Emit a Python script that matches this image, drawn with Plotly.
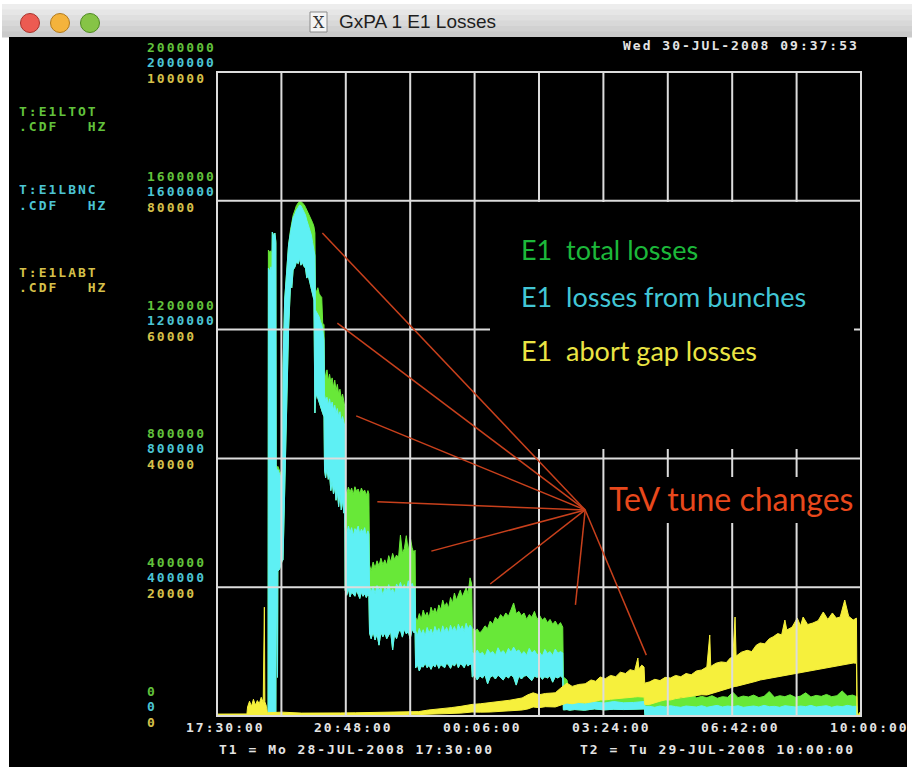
import plotly.graph_objects as go

# ---------------------------------------------------------------------------
# Time axis: minutes after T1 = Mo 28-JUL-2008 17:30:00 (T2 = +990 min)
# ---------------------------------------------------------------------------
time_ticks = [0, 198, 396, 594, 792, 990]
time_tick_labels = ["17:30:00", "20:48:00", "00:06:00", "03:24:00", "06:42:00", "10:00:00"]
grid_minutes = [0, 99, 198, 297, 396, 495, 594, 693, 792, 891, 990]

# Left scales: E1LTOT and E1LBNC share 0..2 000 000 Hz, E1LABT 0..100 000 Hz
tot_ticks = [0, 400000, 800000, 1200000, 1600000, 2000000]
bnc_ticks = [0, 400000, 800000, 1200000, 1600000, 2000000]
abt_ticks = [0, 20000, 40000, 60000, 80000, 100000]

# ---------------------------------------------------------------------------
# T:E1LTOT / T:E1LBNC envelopes (kHz), sampled on a shared time base (min)
# ---------------------------------------------------------------------------
loss_t = [
    # injection spikes and the first store peak
    0, 78.5, 79, 81, 83, 84.5, 85, 87, 89, 90.5, 91, 93, 93.6, 96, 98.5, 100.5,
    101.5, 104, 107, 110, 113, 115, 117, 120, 122, 125, 127, 129, 131, 134, 136,
    138, 140, 143, 145, 147, 149, 150.5, 151.3, 153, 155, 157, 159, 161, 162.5, 164.5,
    # step 2
    165.3, 167, 169, 171, 173, 175, 177, 179, 181, 183, 185, 187, 189, 191, 193, 195, 196.5,
    # step 3
    197, 199.5, 202, 204.5, 207, 209.5, 212, 214.5, 217, 219.5, 222, 224.5, 227, 229.5, 232, 233.5,
    # step 4
    234.5, 237, 240, 243, 246, 249, 252, 255, 258, 261, 264, 267, 270, 273, 276, 279,
    282, 285, 288, 291, 294, 297, 300, 303, 304.5,
    # step 5
    305.3, 308, 311, 314, 317, 320, 323, 326, 329, 332, 335, 338, 341, 344, 347, 350,
    353, 356, 359, 362, 365, 368, 371, 374, 377, 380, 383, 386, 389, 391.5,
    # step 6
    392.4, 396, 400, 404, 408, 412, 416, 420, 424, 428, 432, 436, 440, 444, 448, 452,
    456, 460, 464, 468, 472, 476, 480, 484, 488, 492, 496, 500, 504, 508, 512, 516,
    520, 524, 528, 531.5,
    # after the abort-gap clean-up
    532.5, 538, 542, 550, 565, 580, 595, 610, 625, 640, 657,
    658, 665, 673, 681, 689, 697, 705, 713, 721, 729, 737, 745, 753, 761, 769,
    777, 785, 793, 801, 809, 817, 825, 833, 841, 849, 857, 865, 873, 881, 889,
    897, 905, 913, 921, 929, 937, 945, 953, 961, 969, 977, 983.5, 984.5, 990,
]

bnc_hi_khz = [
    0, 0, 1391, 1380, 1395, 1370, 1503, 1490, 1500, 1470, 773, 760, 765, 750, 740, 760,
    1084, 1292, 1376, 1463, 1503, 1525, 1547, 1560, 1571, 1580, 1587, 1585, 1578, 1565, 1556,
    1540, 1525, 1510, 1494, 1470, 1447, 1430, 1261, 1255, 1250, 1240, 1225, 1215, 1200, 1168,
    997, 980, 990, 965, 985, 960, 975, 950, 965, 940, 955, 930, 945, 915, 930, 905, 900,
    587, 565, 590, 570, 585, 560, 582, 575, 590, 565, 580, 570, 585, 560, 575, 565,
    401, 385, 402, 380, 405, 392, 398, 375, 400, 390, 408, 385, 395, 380, 410, 398,
    415, 395, 408, 390, 420, 400, 412, 395, 400,
    265, 250, 272, 255, 268, 248, 275, 258, 270, 252, 278, 260, 272, 255, 280, 262,
    275, 258, 282, 265, 278, 260, 285, 268, 280, 262, 288, 270, 282, 275,
    200, 188, 205, 192, 198, 185, 207, 195, 200, 188, 212, 196, 203, 190, 210, 198,
    214, 200, 205, 192, 200, 188, 210, 195, 204, 190, 198, 186, 207, 194, 200, 188,
    208, 195, 200, 196,
    40, 42, 38, 42, 38, 44, 40, 45, 41, 42, 45,
    30, 30, 27, 31, 28, 32, 29, 27, 31, 30, 28, 32, 27, 30, 33,
    28, 31, 29, 32, 27, 30, 31, 28, 33, 29, 30, 27, 32, 30, 28,
    31, 29, 33, 28, 30, 32, 27, 31, 29, 33, 30, 30, 0, 0,
]

bnc_lo_khz = [
    0, 0, 0, 0, 0, 0, 0, 0, 0, 0, 444, 120, 450, 455, 470, 484,
    484, 600, 940, 1200, 1338, 1330, 1385, 1395, 1410, 1405, 1422, 1400, 1410, 1395, 1391,
    1360, 1370, 1340, 1323, 1310, 1292, 941, 981, 1000, 990, 975, 960, 950, 940, 929,
    764, 740, 770, 735, 750, 700, 730, 690, 711, 670, 700, 650, 690, 640, 672, 630, 640,
    391, 375, 395, 370, 385, 380, 372, 390, 378, 365, 385, 372, 380, 368, 378, 372,
    258, 240, 262, 236, 255, 220, 260, 246, 258, 240, 250, 262, 205, 255, 240, 262,
    267, 245, 270, 255, 262, 240, 270, 258, 262,
    149, 160, 140, 155, 152, 165, 150, 158, 145, 160, 152, 165, 148, 160, 155, 150,
    165, 158, 148, 162, 155, 168, 150, 162, 158, 150, 165, 155, 162, 158,
    121, 128, 112, 125, 118, 128, 100, 121, 125, 115, 127, 121, 112, 125, 118, 128,
    120, 96, 124, 115, 124, 126, 119, 110, 124, 120, 126, 114, 122, 118, 125, 105,
    122, 118, 124, 118,
    19, 20, 18, 20, 18, 22, 19, 21, 20, 20, 22,
    0, 0, 0, 0, 0, 0, 0, 0, 0, 0, 0, 0, 0, 0, 0,
    0, 0, 0, 0, 0, 0, 0, 0, 0, 0, 0, 0, 0, 0, 0,
    0, 0, 0, 0, 0, 0, 0, 0, 0, 0, 0, 0, 0, 0,
]

tot_hi_khz = [
    0, 0, 1447, 1440, 1445, 1430, 1503, 1495, 1500, 1475, 780, 770, 775, 760, 750, 770,
    1084, 1292, 1376, 1463, 1510, 1530, 1555, 1572, 1585, 1594, 1599, 1598, 1595, 1588, 1580,
    1572, 1560, 1550, 1540, 1532, 1520, 1500, 1323, 1318, 1330, 1312, 1305, 1300, 1220, 1215,
    1075, 1050, 1075, 1040, 1062, 1035, 1050, 1020, 1043, 1010, 1030, 1000, 1015, 985, 1000, 970, 960,
    705, 690, 711, 695, 708, 688, 712, 698, 705, 690, 708, 695, 702, 685, 700, 690,
    469, 450, 478, 460, 482, 466, 490, 470, 485, 468, 498, 478, 505, 486, 500, 490,
    562, 505, 520, 560, 512, 556, 522, 505, 515,
    307, 295, 318, 300, 329, 310, 322, 305, 338, 320, 335, 318, 345, 330, 360, 340,
    352, 335, 368, 350, 382, 360, 375, 391, 370, 385, 398, 380, 429, 410,
    276, 262, 270, 258, 267, 280, 272, 295, 285, 307, 298, 315, 305, 320, 310, 330,
    351, 318, 325, 312, 320, 300, 315, 307, 325, 300, 312, 298, 305, 290, 300, 285,
    295, 280, 290, 276,
    121, 112, 70, 60, 62, 58, 63, 60, 62, 60, 62,
    50, 55, 58, 52, 60, 57, 62, 54, 59, 75, 56, 61, 57, 63, 55,
    60, 58, 74, 57, 62, 59, 65, 57, 61, 76, 58, 63, 60, 66, 58,
    62, 72, 59, 64, 61, 67, 60, 63, 78, 62, 65, 60, 0, 0,
]
tot_lo_khz = bnc_lo_khz

# ---------------------------------------------------------------------------
# T:E1LABT envelope (Hz) on its own time base (min)
# ---------------------------------------------------------------------------
abt_t = [
    0, 20, 46, 47, 50, 53, 56, 59, 62, 65, 68, 71, 72.8, 73.6, 76, 77.5,
    100, 130, 160, 190, 213, 250, 282, 310, 325, 345, 360, 375, 392, 405, 420,
    436, 450, 469, 478, 486, 495, 505, 520, 528, 538, 546, 556, 566, 575, 582,
    589, 597, 605, 613, 620, 628, 635, 642, 647, 648.5, 653, 656.5,
    657.5, 665, 673, 681, 689, 697, 705, 713, 721, 729, 737, 745, 753, 757.5,
    759, 767, 775, 783, 789, 793, 796.4, 798, 806, 815, 822, 829, 835, 842, 849,
    855, 862, 868, 873, 876, 884, 892, 897, 901, 908, 916, 924, 932, 939, 946,
    952, 958, 965, 971, 978, 983, 984, 990,
]
abt_hi = [
    300, 350, 320, 1400, 2300, 1500, 2600, 1700, 2400, 1900, 2900, 2100, 16900, 2200, 1500, 500,
    600, 450, 520, 480, 500, 560, 620, 680, 930, 1100, 1300, 1500, 1800, 1900, 2100,
    2200, 2450, 2800, 3300, 3600, 3300, 3500, 3600, 4300, 5100, 4600, 4900, 5000, 5600, 5400,
    6060, 5800, 6300, 6100, 6800, 6600, 7200, 7000, 9000, 7300, 7900, 7600,
    5100, 5300, 5700, 5500, 6000, 5900, 6300, 6100, 6600, 6400, 7000, 7140, 7610, 12580,
    7700, 8200, 8400, 8300, 9000, 9160, 15370, 9300, 9900, 10200, 10000, 11000, 11340, 11200, 12000,
    12300, 12800, 12600, 14900, 13360, 13800, 15220, 14000, 15370, 14200, 14440, 14800, 16150, 15000, 16000,
    15200, 15370, 18010, 15500, 14900, 15200, 0, 800,
]
abt_lo = [
    0, 0, 0, 0, 0, 0, 0, 0, 0, 0, 0, 0, 0, 0, 0, 0,
    0, 0, 0, 0, 0, 0, 150, 150, 200, 300, 400, 450, 620, 600, 620,
    650, 800, 930, 1100, 1400, 1300, 1450, 1400, 1700, 2020, 1900, 2100, 2020, 2200, 2300,
    2480, 2500, 2600, 2650, 2800, 2850, 2900, 2950, 3000, 3000, 2950, 2950,
    1800, 1800, 2100, 2300, 2500, 2480, 2700, 2900, 3000, 3100, 3200, 3300, 3260, 3400,
    3400, 3700, 3900, 4100, 4300, 4500, 4600, 4600, 4800, 5000, 5200, 5400, 5590, 5700, 5900,
    6000, 6100, 6200, 6300, 6370, 6500, 6600, 6700, 6800, 6950, 7140, 7300, 7400, 7500, 7600,
    7750, 7920, 8000, 8100, 8230, 8200, 0, 0,
]

# Markers for the "TeV tune changes" callout: (minutes, Hz on the E1LTOT scale)
tune_hub = (566, 640000)
tune_changes_t = [162, 185, 214, 246.5, 329.5, 420, 551, 660]
tune_changes_v = [1500000, 1220000, 932000, 665000, 512000, 410000, 345000, 189000]

# ---------------------------------------------------------------------------
# Colours and page geometry
# ---------------------------------------------------------------------------
C_TOT = "#68e838"
C_BNC = "#5ef0f4"
C_ABT = "#f6f03c"
L_TOT = "#62c23c"
L_BNC = "#4cc4d4"
L_ABT = "#d6c04a"
GRID = "#dcdcdc"
TXT = "#e4e4e4"
MONO = "DejaVu Sans Mono"

W, H = 914, 771
ML, MR, MT, MB = 217, 53, 72, 55
PW, PH = W - ML - MR, H - MT - MB


def pxx(x):
    return (x - ML) / PW


def pxy(y):
    return (H - MB - y) / PH


def spaced(s, ls=2.0):
    return f'<span style="letter-spacing:{ls}px">{s}</span>'


fig = go.Figure()


def band(t, hi, lo, color, scale, yaxis="y"):
    xs = list(t) + list(t)[::-1]
    ys = [v * scale for v in hi] + [v * scale for v in lo][::-1]
    fig.add_trace(go.Scatter(
        x=xs, y=ys, mode="lines", fill="toself", fillcolor=color,
        line=dict(color=color, width=1), yaxis=yaxis,
        hoverinfo="skip", showlegend=False,
    ))


band(loss_t, tot_hi_khz, tot_lo_khz, C_TOT, 1000)
band(loss_t, bnc_hi_khz, bnc_lo_khz, C_BNC, 1000)
band(abt_t, abt_hi, abt_lo, C_ABT, 1, yaxis="y2")

shapes = []
# window chrome
shapes.append(dict(type="rect", xref="paper", yref="paper", x0=pxx(0), x1=pxx(W),
                   y0=pxy(H), y1=pxy(0), fillcolor="white", line_width=0, layer="below"))
bar_cols = ["#ededed", "#e6e6e6", "#dfdfdf", "#d8d8d8", "#d1d1d1", "#cacaca"]
for i, c in enumerate(bar_cols):
    y0 = 4 + i * 33 / len(bar_cols)
    shapes.append(dict(type="rect", xref="paper", yref="paper", x0=pxx(2), x1=pxx(912),
                       y0=pxy(y0 + 33 / len(bar_cols) + 0.5), y1=pxy(y0),
                       fillcolor=c, line_width=0, layer="below"))
shapes.append(dict(type="rect", xref="paper", yref="paper", x0=pxx(9), x1=pxx(907),
                   y0=pxy(767), y1=pxy(37), fillcolor="black", line_width=0, layer="below"))
for cx, fc, lc in [(30, "#ec5b52", "#a8332c"), (60, "#f4b33c", "#b27a1c"), (90, "#86c446", "#4f8a22")]:
    shapes.append(dict(type="circle", xref="paper", yref="paper",
                       x0=pxx(cx - 9.5), x1=pxx(cx + 9.5), y0=pxy(32.5), y1=pxy(13.5),
                       fillcolor=fc, line=dict(color=lc, width=1), layer="below"))
shapes.append(dict(type="rect", xref="paper", yref="paper", x0=pxx(310), x1=pxx(327),
                   y0=pxy(32), y1=pxy(12), fillcolor="#f4f4f4",
                   line=dict(color="#8a8a8a", width=1), layer="below"))

# grid drawn over the traces
for m in grid_minutes[1:-1]:
    shapes.append(dict(type="line", xref="x", yref="paper", x0=m, x1=m, y0=0, y1=1,
                       line=dict(color=GRID, width=2), layer="above"))
for v in tot_ticks[1:-1]:
    shapes.append(dict(type="line", xref="paper", yref="y", x0=0, x1=1, y0=v, y1=v,
                       line=dict(color=GRID, width=2), layer="above"))
shapes.append(dict(type="rect", xref="paper", yref="paper", x0=0, x1=1, y0=0, y1=1,
                   line=dict(color=GRID, width=2), layer="above"))

# black panels behind the key and the callout text
shapes.append(dict(type="rect", xref="paper", yref="paper", x0=pxx(490), x1=pxx(854),
                   y0=pxy(449), y1=pxy(202), fillcolor="black", line_width=0, layer="above"))
shapes.append(dict(type="rect", xref="paper", yref="paper", x0=pxx(606), x1=pxx(855),
                   y0=pxy(523), y1=pxy(477), fillcolor="black", line_width=0, layer="above"))

# callout lines from the hub to each tune change
for tt, vv in zip(tune_changes_t, tune_changes_v):
    shapes.append(dict(type="line", xref="x", yref="y", x0=tune_hub[0], y0=tune_hub[1],
                       x1=tt, y1=vv, line=dict(color="#c8401c", width=1.5), layer="above"))

ann = []


def text(x, y, s, color, size=13, family=MONO, xanchor="left", yanchor="middle", **kw):
    ann.append(dict(x=x, y=y, xref=kw.pop("xref", "paper"), yref=kw.pop("yref", "paper"),
                    text=s, showarrow=False, xanchor=xanchor, yanchor=yanchor,
                    font=dict(family=family, size=size, color=color,
                              weight=kw.pop("weight", "normal")), **kw))


# window title
text(pxx(318.5), pxy(22.5), "X", "#333333", size=16, family="DejaVu Serif", xanchor="center")
text(pxx(337), pxy(22), "GxPA 1 E1 Losses", "#1e1e1e", size=19, family="Liberation Sans")

# date stamp
text(pxx(621), pxy(45), spaced("Wed 30-JUL-2008 09:37:53"), TXT, weight="bold")

# device names
for y0, name, col in [(111, "T:E1LTOT", L_TOT), (190, "T:E1LBNC", L_BNC), (272, "T:E1LABT", L_ABT)]:
    text(pxx(17), pxy(y0), spaced(name), col, weight="bold")
    text(pxx(17), pxy(y0 + 15.5), spaced(".CDF   HZ"), col, weight="bold")

# stacked left scales
for vt, vb, va in zip(tot_ticks, bnc_ticks, abt_ticks):
    text(pxx(145), vt, spaced(str(vt)), L_TOT, yref="y", yshift=24.5, weight="bold")
    text(pxx(145), vb, spaced(str(vb)), L_BNC, yref="y", yshift=9.5, weight="bold")
    text(pxx(145), vt, spaced(str(va)), L_ABT, yref="y", yshift=-6.5, weight="bold")

# time labels
for tv, tl in zip(time_ticks, time_tick_labels):
    text(tv, pxy(727), spaced(tl), TXT, xref="x", xanchor="center", xshift=8, weight="bold")

text(pxx(217), pxy(749), spaced("T1 = Mo 28-JUL-2008 17:30:00"), TXT, weight="bold")
text(pxx(578), pxy(749), spaced("T2 = Tu 29-JUL-2008 10:00:00"), TXT, weight="bold")

# key
text(pxx(519), pxy(249), "E1  total losses", "#1cb83a", size=27, family="Lato")
text(pxx(519), pxy(296), "E1  losses from bunches", "#42c6d6", size=27, family="Lato")
text(pxx(519), pxy(350), "E1  abort gap losses", "#eae444", size=27, family="Lato")
text(pxx(607), pxy(498), "TeV tune changes", "#e8481c", size=32, family="Lato")

fig.update_layout(
    width=W, height=H,
    margin=dict(l=ML, r=MR, t=MT, b=MB, pad=0),
    paper_bgcolor="white", plot_bgcolor="black",
    xaxis=dict(range=[0, 990], showgrid=False, zeroline=False, showticklabels=False,
               ticks="", showline=False, fixedrange=True),
    yaxis=dict(range=[0, 2000000], showgrid=False, zeroline=False, showticklabels=False,
               ticks="", showline=False, fixedrange=True),
    yaxis2=dict(range=[0, 100000], overlaying="y", showgrid=False, zeroline=False,
                showticklabels=False, ticks="", showline=False, fixedrange=True),
    shapes=shapes, annotations=ann, showlegend=False,
)

fig.write_html("out.html")
